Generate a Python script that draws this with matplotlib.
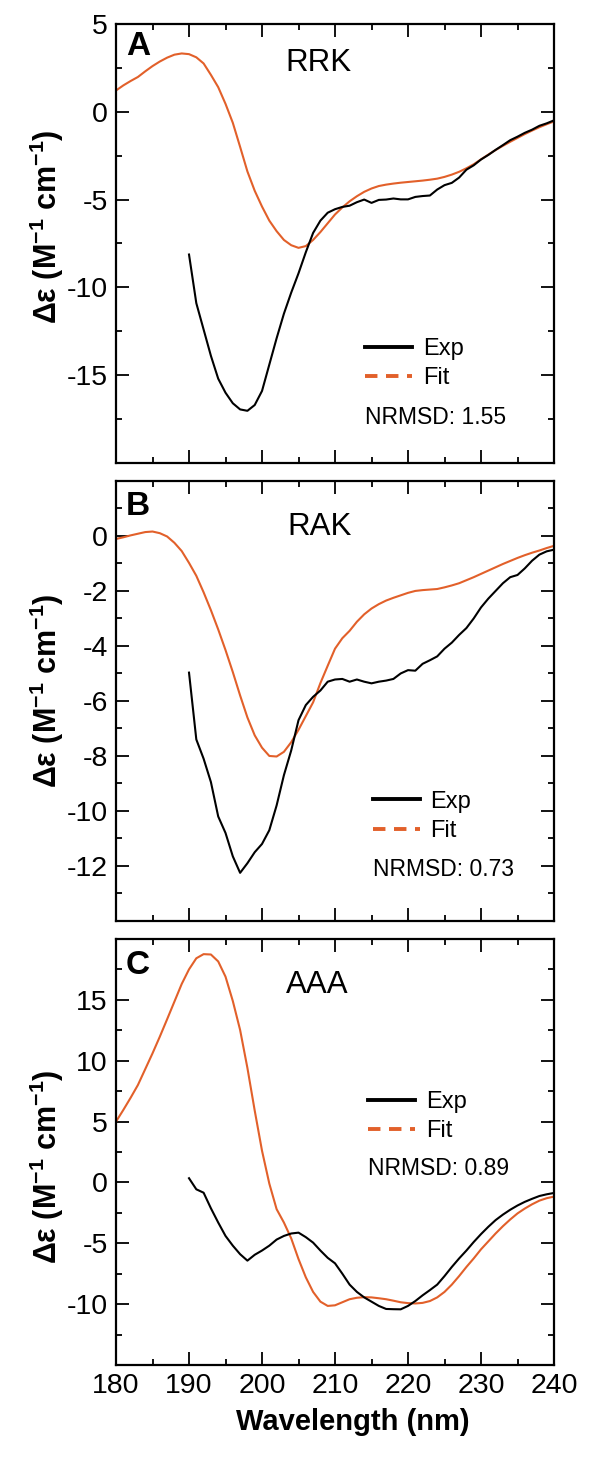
import numpy as np
import matplotlib
matplotlib.use("Agg")
import matplotlib.pyplot as plt
from matplotlib.lines import Line2D
from matplotlib.ticker import MultipleLocator

plt.rcParams['font.family'] = ['Liberation Sans', 'DejaVu Sans']
plt.rcParams['mathtext.fontset'] = 'custom'
plt.rcParams['mathtext.rm'] = 'Liberation Sans:bold'
plt.rcParams['mathtext.default'] = 'rm'
plt.rcParams['axes.unicode_minus'] = False

ORANGE = '#E2602A'

# wavelength grids (nm)
wl_fit = np.arange(180, 241)
wl_exp = np.arange(190, 241)

# panel A - RRK
fit_a = [1.21, 1.5, 1.75, 1.98, 2.3, 2.6, 2.86, 3.08, 3.25, 3.32,
         3.28, 3.1, 2.75, 2.1, 1.4, 0.45, -0.63, -2.0, -3.4, -4.5,
         -5.4, -6.2, -6.8, -7.3, -7.6, -7.75, -7.65, -7.3, -6.85, -6.35,
         -5.85, -5.45, -5.1, -4.81, -4.56, -4.37, -4.23, -4.15, -4.09, -4.04,
         -4.0, -3.96, -3.92, -3.87, -3.81, -3.71, -3.58, -3.42, -3.22, -2.99,
         -2.71, -2.44, -2.18, -1.94, -1.71, -1.49, -1.27, -1.07, -0.88, -0.71,
         -0.55]
exp_a = [-8.13, -10.9, -12.4, -13.9, -15.2, -16.0, -16.6, -16.95, -17.03, -16.7,
         -15.9, -14.4, -12.9, -11.5, -10.3, -9.2, -8.0, -6.9, -6.2, -5.75,
         -5.55, -5.42, -5.35, -5.15, -5.0, -5.19, -5.02, -5.0, -4.94, -4.99,
         -4.99, -4.85, -4.8, -4.77, -4.43, -4.18, -4.05, -3.75, -3.3, -3.05,
         -2.72, -2.46, -2.17, -1.9, -1.62, -1.42, -1.2, -1.02, -0.8, -0.66,
         -0.49]

# panel B - RAK
fit_b = [-0.11, -0.05, 0.02, 0.08, 0.14, 0.16, 0.1, -0.02, -0.25, -0.55,
         -0.98, -1.45, -2.05, -2.7, -3.4, -4.15, -4.95, -5.8, -6.6, -7.25,
         -7.7, -8.0, -8.02, -7.85, -7.5, -7.05, -6.55, -6.05, -5.35, -4.72,
         -4.1, -3.72, -3.45, -3.12, -2.85, -2.64, -2.48, -2.35, -2.25, -2.16,
         -2.07, -2.0, -1.97, -1.95, -1.93, -1.87, -1.8, -1.72, -1.61, -1.5,
         -1.38, -1.26, -1.14, -1.02, -0.91, -0.8, -0.7, -0.61, -0.53, -0.44,
         -0.36]
exp_b = [-4.97, -7.4, -8.1, -8.95, -10.2, -10.8, -11.65, -12.25, -11.9, -11.5,
         -11.2, -10.7, -9.8, -8.7, -7.8, -6.7, -6.15, -5.85, -5.62, -5.3,
         -5.22, -5.2, -5.3, -5.22, -5.3, -5.36, -5.3, -5.26, -5.2, -5.0,
         -4.88, -4.9, -4.65, -4.52, -4.38, -4.1, -3.88, -3.6, -3.35, -3.0,
         -2.6, -2.28, -2.0, -1.72, -1.5, -1.42, -1.18, -0.9, -0.68, -0.56,
         -0.5]

# panel C - AAA
fit_c = [4.99, 5.95, 6.95, 8.0, 9.3, 10.6, 11.97, 13.4, 14.85, 16.3,
         17.5, 18.41, 18.75, 18.72, 18.15, 16.9, 14.9, 12.52, 9.4, 5.9,
         2.6, -0.1, -2.2, -3.3, -4.6, -6.3, -7.8, -9.0, -9.8, -10.15,
         -10.1, -9.85, -9.6, -9.48, -9.43, -9.45, -9.52, -9.6, -9.72, -9.85,
         -9.92, -9.95, -9.9, -9.75, -9.45, -9.0, -8.4, -7.7, -6.95, -6.25,
         -5.5, -4.85, -4.2, -3.6, -3.05, -2.55, -2.15, -1.8, -1.5, -1.3,
         -1.17]
exp_c = [0.34, -0.57, -0.85, -2.13, -3.3, -4.4, -5.2, -5.9, -6.43, -5.95,
         -5.6, -5.2, -4.7, -4.4, -4.2, -4.13, -4.5, -4.95, -5.6, -6.2,
         -6.65, -7.5, -8.4, -9.0, -9.45, -9.8, -10.15, -10.4, -10.42, -10.43,
         -10.15, -9.75, -9.28, -8.85, -8.4, -7.7, -6.95, -6.25, -5.6, -4.9,
         -4.25, -3.65, -3.1, -2.65, -2.25, -1.9, -1.6, -1.35, -1.12, -0.98,
         -0.87]

panel_letters = ['A', 'B', 'C']
peptides = ['RRK', 'RAK', 'AAA']
nrmsd = [1.55, 0.73, 0.89]
ylims = [(-20, 5), (-14, 2), (-15, 20)]
yticks = [[-15, -10, -5, 0, 5], [-12, -10, -8, -6, -4, -2, 0], [-10, -5, 0, 5, 10, 15]]
yminor = [2.5, 1, 2.5]

# layout (figure fractions) and label placement (axes fractions)
axes_rects = [[0.1963, 0.6829, 0.7411, 0.3007],
              [0.1963, 0.3692, 0.7411, 0.3014],
              [0.1963, 0.0651, 0.7411, 0.2918]]
letter_pos = [(0.023, 0.948), (0.023, 0.943), (0.023, 0.937)]
name_pos = [(0.463, 0.911), (0.465, 0.895), (0.46, 0.892)]
legend_pos = [(0.568, 0.284), (0.586, 0.296), (0.575, 0.643)]
nrmsd_pos = [(0.568, 0.104), (0.586, 0.116), (0.575, 0.46)]
ylabel_y = [0.538, 0.523, 0.465]

fits = [fit_a, fit_b, fit_c]
exps = [exp_a, exp_b, exp_c]

fig = plt.figure(figsize=(5.91, 14.6), dpi=100)

for i in range(3):
    ax = fig.add_axes(axes_rects[i])
    ax.plot(wl_fit, fits[i], color=ORANGE, lw=1.5)
    ax.plot(wl_exp, exps[i], color='black', lw=1.5)

    ax.set_xlim(180, 240)
    ax.set_ylim(*ylims[i])
    ax.set_yticks(yticks[i])
    ax.xaxis.set_major_locator(MultipleLocator(10))
    ax.xaxis.set_minor_locator(MultipleLocator(5))
    ax.yaxis.set_minor_locator(MultipleLocator(yminor[i]))
    ax.tick_params(which='both', direction='in', top=True, right=True,
                   width=1.3, labelsize=20.5, pad=6)
    ax.tick_params(which='major', length=9.5)
    ax.tick_params(which='minor', length=4.5)
    for sp in ax.spines.values():
        sp.set_linewidth(1.6)

    if i < 2:
        ax.tick_params(labelbottom=False)
    else:
        ax.set_xlabel('Wavelength (nm)', fontsize=21, fontweight='bold')
        ax.xaxis.set_label_coords(0.541, -0.1)

    ax.set_ylabel(r'Δε (M$^{-1}$ cm$^{-1}$)', fontsize=22, fontweight='bold')
    ax.yaxis.set_label_coords(-0.115, ylabel_y[i])

    ax.text(letter_pos[i][0], letter_pos[i][1], panel_letters[i], transform=ax.transAxes,
            fontsize=24, fontweight='bold', ha='left', va='center')
    ax.text(name_pos[i][0], name_pos[i][1], peptides[i], transform=ax.transAxes,
            fontsize=22.5, ha='center', va='center')

    handles = [Line2D([], [], color='black', lw=2.8),
               Line2D([], [], color=ORANGE, lw=2.8, ls=(0, (3.2, 2.2)))]
    ax.legend(handles, ['Exp', 'Fit'], loc='upper left', bbox_to_anchor=legend_pos[i],
              frameon=False, fontsize=17, handlelength=2.0, handletextpad=0.45,
              labelspacing=0.3, borderpad=0, borderaxespad=0)
    ax.text(nrmsd_pos[i][0], nrmsd_pos[i][1], f'NRMSD: {nrmsd[i]:.2f}', transform=ax.transAxes,
            fontsize=16.5, ha='left', va='center')

fig.savefig('out.png', dpi=100)
